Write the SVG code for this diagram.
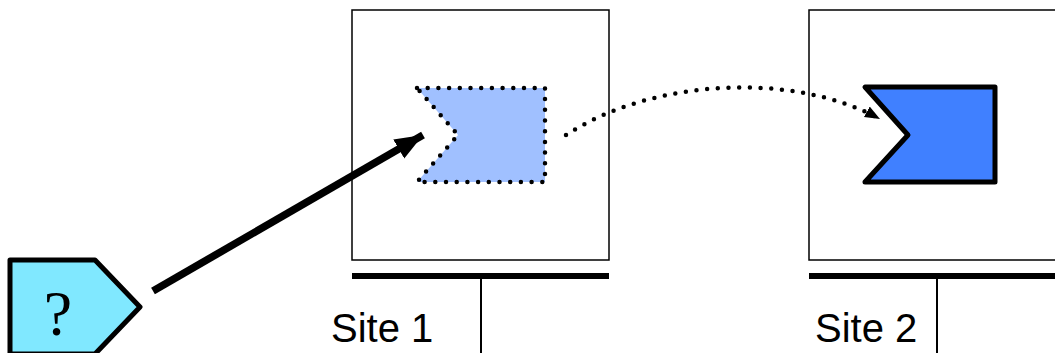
<svg xmlns="http://www.w3.org/2000/svg" width="1055" height="353" viewBox="0 0 1055 353">
<style>
.site{fill:none;stroke:#000;stroke-width:1.5}
.bar{stroke:#000;stroke-width:6}
.tick{stroke:#000;stroke-width:2}
.label{font-family:"Liberation Sans",Arial,sans-serif;font-size:40px;fill:#000}
</style>
<defs>
<marker id="bigHead" markerUnits="userSpaceOnUse" markerWidth="30" markerHeight="30" viewBox="0 0 30 30" refX="28" refY="15" orient="auto">
<path d="M0,4 L28,15 L0,26 Z" fill="#000"/>
</marker>
<marker id="smallHead" markerUnits="userSpaceOnUse" markerWidth="16" markerHeight="16" viewBox="0 0 16 16" refX="15" refY="8" orient="auto">
<path d="M0,2 L15,8 L0,14 Z" fill="#000"/>
</marker>
</defs>
<g id="site1">
<rect class="site" x="352" y="10" width="257" height="250"/>
<line class="bar" x1="352" y1="276" x2="609" y2="276"/>
<line class="tick" x1="481" y1="278" x2="481" y2="353"/>
<text class="label" x="331" y="342">Site 1</text>
</g>
<g id="site2">
<rect class="site" x="809" y="10" width="260" height="250"/>
<line class="bar" x1="809" y1="276" x2="1060" y2="276"/>
<line class="tick" x1="937" y1="278" x2="937" y2="353"/>
<text class="label" x="815" y="342">Site 2</text>
</g>
<g id="ghost">
<path d="M417,88 L545,88 L545,182 L417,182 L458,135 Z" fill="#A0C0FF" stroke="#000" stroke-width="4.5" stroke-linecap="round" stroke-dasharray="0 10.7" stroke-linejoin="round"/>
</g>
<g id="target">
<path d="M865,87 L995,87 L995,182 L865,182 L908,135 Z" fill="#4080FF" stroke="#000" stroke-width="5" stroke-linejoin="round"/>
</g>
<g id="query">
<path d="M10,260 L95,260 L140,307 L95,354 L10,354 Z" fill="#80E8FF" stroke="#000" stroke-width="5" stroke-linejoin="round"/>
<text x="58" y="335" text-anchor="middle" font-family="'Liberation Serif','Times New Roman',serif" font-size="64">?</text>
</g>
<g id="connectors">
<line x1="153" y1="291" x2="423" y2="135" stroke="#000" stroke-width="7.5" marker-end="url(#bigHead)"/>
<path d="M566,135 C650,80 790,70 880,119" fill="none" stroke="#000" stroke-width="4.5" stroke-linecap="round" stroke-dasharray="0 10.7" marker-end="url(#smallHead)"/>
</g>
</svg>
